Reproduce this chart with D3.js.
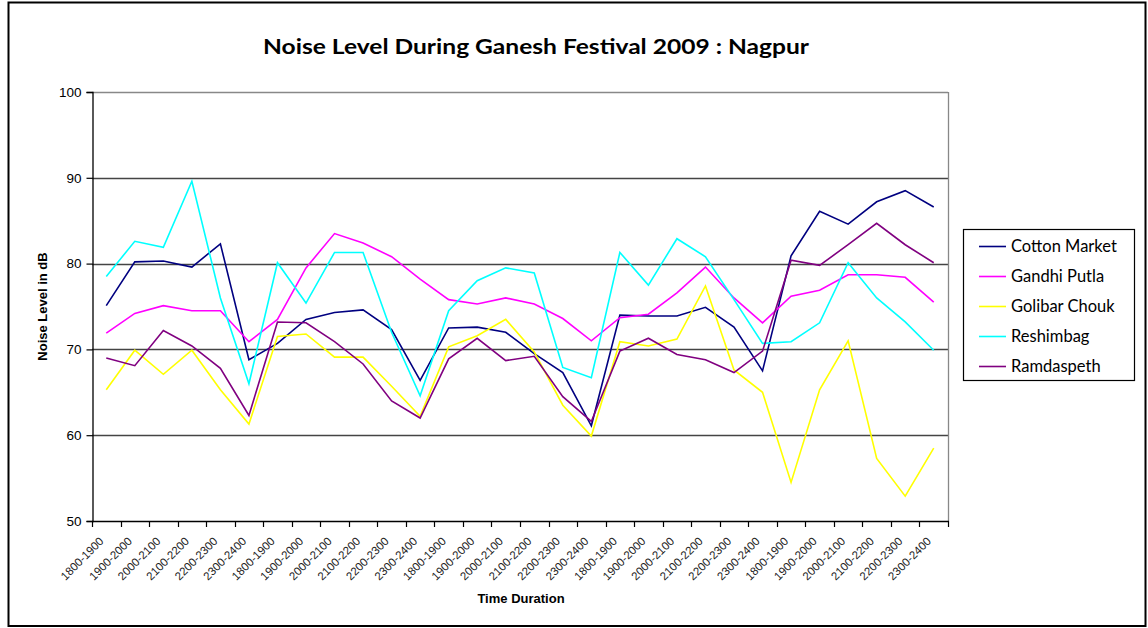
<!DOCTYPE html>
<html>
<head>
<meta charset="utf-8">
<script src="https://cdn.jsdelivr.net/npm/d3@7"></script>
<style>
  html, body { margin: 0; padding: 0; background: #fff; }
  svg { display: block; }
</style>
</head>
<body>
<svg id="chart" width="1148" height="628"></svg>
<script>
const slots = ["1800-1900","1900-2000","2000-2100","2100-2200","2200-2300","2300-2400"];
const categories = [].concat(slots, slots, slots, slots, slots);

const seriesNames = ["Cotton Market","Gandhi Putla","Golibar Chouk","Reshimbag","Ramdaspeth"];
const seriesColors = ["#000080","#FF00FF","#FFFF00","#00FFFF","#800080"];

const cottonMarket = [75.1,80.2,80.3,79.6,82.3,68.8,70.7,73.5,74.3,74.6,72.3,66.4,72.5,72.6,72.0,69.5,67.3,61.1,74.0,73.9,73.9,74.9,72.6,67.5,80.9,86.1,84.6,87.2,88.5,86.6];
const gandhiPutla  = [71.9,74.2,75.1,74.5,74.5,70.9,73.5,79.5,83.5,82.4,80.8,78.2,75.8,75.3,76.0,75.3,73.6,71.0,73.7,74.1,76.6,79.6,76.0,73.1,76.2,76.9,78.7,78.7,78.4,75.5];
const golibarChouk = [65.3,69.9,67.1,69.9,65.3,61.3,71.5,71.8,69.1,69.1,65.7,62.2,70.3,71.6,73.5,69.7,63.5,59.9,70.9,70.4,71.2,77.4,67.6,65.0,54.5,65.3,71.0,57.3,52.9,58.5];
const reshimbag    = [78.5,82.6,81.9,89.6,76.0,66.0,80.1,75.4,81.3,81.3,72.0,64.6,74.5,78.0,79.5,78.9,67.9,66.7,81.3,77.5,82.9,80.8,75.8,70.7,70.9,73.1,80.1,76.0,73.2,69.9];
const ramdaspeth   = [69.0,68.1,72.2,70.4,67.8,62.3,73.2,73.1,70.9,68.3,64.0,62.0,68.9,71.3,68.7,69.2,64.5,61.6,69.8,71.3,69.4,68.8,67.3,69.8,80.4,79.8,82.2,84.7,82.2,80.1];

const yTicks = [50,60,70,80,90,100];
const title = "Noise Level During Ganesh Festival 2009 : Nagpur";
const yTitle = "Noise Level in dB";
const xTitle = "Time Duration";

const seriesValues = [cottonMarket, gandhiPutla, golibarChouk, reshimbag, ramdaspeth];
const series = seriesNames.map((n, k) => ({ name: n, color: seriesColors[k], values: seriesValues[k] }));

const svg = d3.select("#chart");
const plot = { left: 92, right: 948, top: 92, bottom: 521 };

// outer border
svg.append("rect").attr("x", 8.5).attr("y", 2.5).attr("width", 1137).attr("height", 623.5)
  .attr("fill", "#fff").attr("stroke", "#000").attr("stroke-width", 2);

const idx = d3.range(categories.length);
const xBand = d3.scaleBand().domain(idx).range([plot.left, plot.right]).paddingInner(0).paddingOuter(0);
const xPoint = i => xBand(i) + xBand.bandwidth() / 2;
const y = d3.scaleLinear().domain([50, 100]).range([plot.bottom, plot.top]);

// gridlines
svg.append("g").selectAll("line").data(yTicks.filter(t => t > 50)).join("line")
  .attr("x1", plot.left).attr("x2", plot.right)
  .attr("y1", d => Math.round(y(d)) + 0.5).attr("y2", d => Math.round(y(d)) + 0.5)
  .attr("stroke", d => d === 100 ? "#888" : "#444").attr("stroke-width", 1.3);

// right plot border
svg.append("line").attr("x1", plot.right + 0.5).attr("x2", plot.right + 0.5)
  .attr("y1", plot.top).attr("y2", plot.bottom).attr("stroke", "#888").attr("stroke-width", 1.3);

// y axis
const yAxis = d3.axisLeft(y).tickValues(yTicks).tickSize(6).tickPadding(5);
const gy = svg.append("g").attr("transform", `translate(${plot.left + 0.5},0)`).call(yAxis);
gy.select(".domain").attr("stroke", "#000").attr("stroke-width", 1.3);
gy.selectAll(".tick line").attr("stroke", "#000").attr("stroke-width", 1.2);
gy.selectAll(".tick text").attr("font-family", "Arial, 'Liberation Sans', sans-serif")
  .attr("font-size", 13.5).attr("fill", "#000");

// x axis (ticks at category boundaries)
const boundaries = d3.range(categories.length + 1).map(i => plot.left + i * xBand.bandwidth());
const gx = svg.append("g");
gx.append("line").attr("x1", plot.left).attr("x2", plot.right + 1)
  .attr("y1", plot.bottom + 0.5).attr("y2", plot.bottom + 0.5).attr("stroke", "#000").attr("stroke-width", 1.3);
gx.selectAll("line.tk").data(boundaries).join("line").attr("class", "tk")
  .attr("x1", d => Math.round(d) + 0.5).attr("x2", d => Math.round(d) + 0.5)
  .attr("y1", plot.bottom).attr("y2", plot.bottom + 6).attr("stroke", "#000").attr("stroke-width", 1.2);
gx.selectAll("text").data(idx).join("text")
  .attr("transform", i => `translate(${xPoint(i) - 2},${plot.bottom + 21}) rotate(-45)`)
  .attr("text-anchor", "end")
  .attr("font-family", "Arial, 'Liberation Sans', sans-serif")
  .attr("font-size", 11.5).attr("fill", "#222")
  .text(i => categories[i]);

// lines
const line = d3.line().x((d, i) => xPoint(i)).y(d => y(d));
svg.append("g").selectAll("path").data(series).join("path")
  .attr("d", s => line(s.values)).attr("fill", "none")
  .attr("stroke", s => s.color).attr("stroke-width", 1.6).attr("stroke-linejoin", "miter");

// title
svg.append("text").attr("x", 536).attr("y", 54).attr("text-anchor", "middle")
  .attr("font-family", "Lato, 'Open Sans', sans-serif").attr("font-weight", "bold")
  .attr("font-size", 21).attr("textLength", 546).attr("lengthAdjust", "spacingAndGlyphs")
  .attr("fill", "#000").text(title);

// axis titles
svg.append("text").attr("transform", `translate(47,${(plot.top + plot.bottom) / 2}) rotate(-90)`)
  .attr("text-anchor", "middle").attr("font-family", "Arial, 'Liberation Sans', sans-serif")
  .attr("font-weight", "bold").attr("font-size", 13).attr("fill", "#000").text(yTitle);
svg.append("text").attr("x", 521).attr("y", 603).attr("text-anchor", "middle")
  .attr("font-family", "Arial, 'Liberation Sans', sans-serif")
  .attr("font-weight", "bold").attr("font-size", 13).attr("fill", "#000").text(xTitle);

// legend
const lg = svg.append("g");
lg.append("rect").attr("x", 963.5).attr("y", 229.5).attr("width", 171).attr("height", 151)
  .attr("fill", "#fff").attr("stroke", "#000").attr("stroke-width", 1.2);
const items = lg.selectAll("g.it").data(series).join("g").attr("class", "it")
  .attr("transform", (d, k) => `translate(0,${246 + k * 30})`);
items.append("line").attr("x1", 979).attr("x2", 1006).attr("y1", 0.5).attr("y2", 0.5)
  .attr("stroke", d => d.color).attr("stroke-width", 1.6);
items.append("text").attr("x", 1011).attr("y", 6)
  .attr("font-family", "Lato, 'Open Sans', sans-serif").attr("font-size", 16.5).attr("fill", "#000")
  .text(d => d.name);
</script>
</body>
</html>
